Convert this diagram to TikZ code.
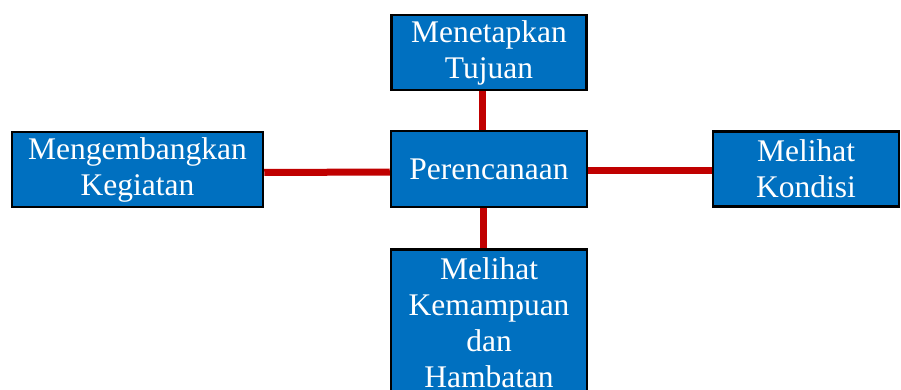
\documentclass[tikz,border=0pt]{standalone}
\usepackage{fontspec}
\setmainfont{Liberation Serif}
\usepackage{tikz}
\usepackage{xcolor}
\definecolor{ColBox}{RGB}{0,112,192}
\definecolor{ColLink}{RGB}{192,0,0}
\tikzstyle{BoxPlan}=[rectangle,draw=black,fill=ColBox,line width=2.5pt,text=white,
inner sep=0pt,align=center,font=\fontsize{31.5}{36}\selectfont]
\tikzstyle{LinkPlan}=[ColLink,line width=7pt]

\begin{document}
\begin{tikzpicture}[x=1pt,y=-1pt]
        \useasboundingbox(0,0)rectangle(901,390);
        \clip(0,0)rectangle(901,390);
        \node[BoxPlan,minimum width=195pt,minimum height=75pt](tujuan)at(489,52.5){Menetapkan\\Tujuan};
        \node[BoxPlan,minimum width=196pt,minimum height=76pt](plan)at(489,169){Perencanaan};
        \node[BoxPlan,minimum width=251pt,minimum height=75pt](kegiatan)at(137.5,169.5){Mengembangkan\\Kegiatan};
        \node[BoxPlan,minimum width=186pt,minimum height=75pt](kondisi)at(806,169){Melihat\\Kondisi};
        \node[BoxPlan,anchor=north,text width=196pt,inner ysep=8pt](hambatan)at(489,248){Melihat\\Kemampuan\\dan\\Hambatan};
        \draw[LinkPlan]([xshift=-7pt]tujuan.south)--([xshift=-7pt]plan.north);
        \draw[LinkPlan]([xshift=-6pt]plan.south)--([xshift=-6pt]hambatan.north);
        \draw[LinkPlan]([yshift=-3pt]kegiatan.east)--([yshift=-3pt]plan.west);
        \draw[LinkPlan]([yshift=-2pt]plan.east)--([yshift=-2pt]kondisi.west);
    \end{tikzpicture}
\end{document}
